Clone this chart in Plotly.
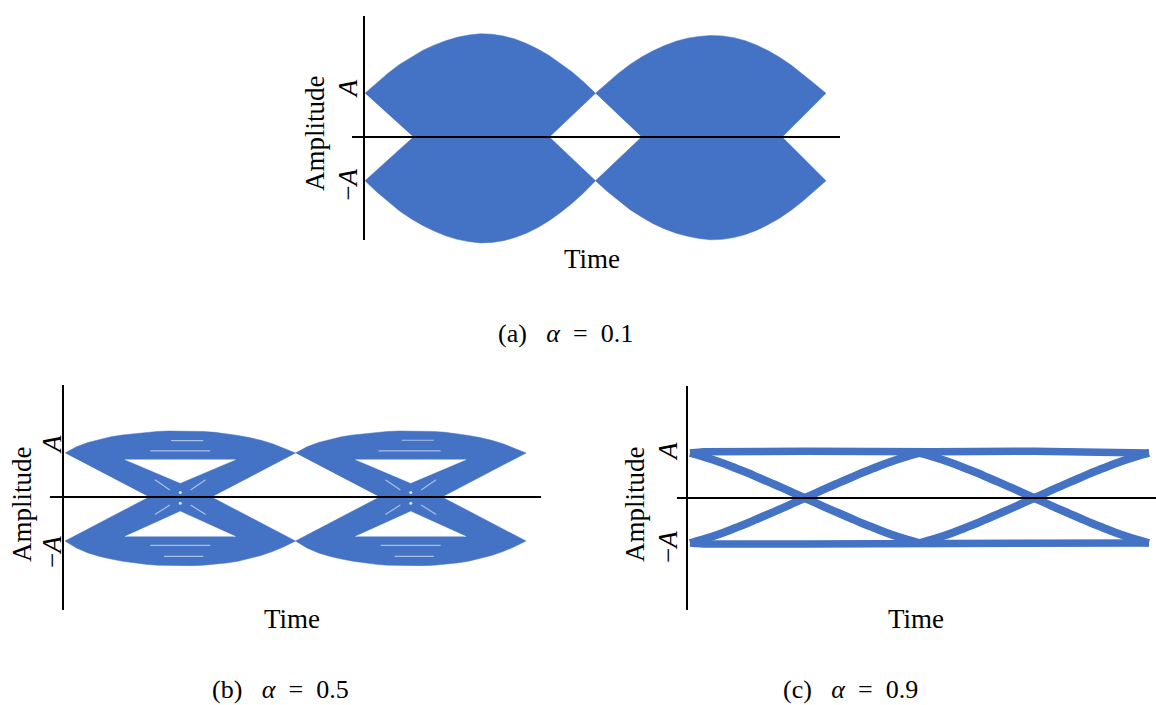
import plotly.graph_objects as go

W, H = 1156, 705
BLUE = "#4472C4"
SERIF = "Liberation Serif, Times New Roman, serif"

# ---- sampled time axis, in symbol periods ----
time_grid = [0.0, 0.05, 0.1, 0.15, 0.2, 0.25, 0.3, 0.35, 0.4, 0.45, 0.5,
             0.55, 0.6, 0.65, 0.7, 0.75, 0.8, 0.85, 0.9, 0.95, 1.0,
             1.05, 1.1, 1.15, 1.2, 1.25, 1.3, 1.35, 1.4, 1.45, 1.5,
             1.55, 1.6, 1.65, 1.7, 1.75, 1.8, 1.85, 1.9, 1.95, 2.0]

# ---- (a) alpha = 0.1 : outer envelopes of the trace bundle (units of A) ----
a_upper = [1.0, 1.24, 1.46, 1.66, 1.83, 1.98, 2.1, 2.2, 2.28, 2.33, 2.36,
           2.35, 2.31, 2.24, 2.14, 2.01, 1.86, 1.68, 1.48, 1.25, 1.0,
           1.24, 1.46, 1.66, 1.83, 1.97, 2.09, 2.19, 2.26, 2.3, 2.32,
           2.31, 2.27, 2.2, 2.1, 1.97, 1.82, 1.64, 1.44, 1.22, 1.0]
a_lower = [-1.0, -1.25, -1.48, -1.69, -1.87, -2.02, -2.15, -2.26, -2.34, -2.39, -2.42,
           -2.41, -2.37, -2.3, -2.2, -2.07, -1.91, -1.72, -1.51, -1.27, -1.0,
           -1.24, -1.46, -1.66, -1.83, -1.98, -2.1, -2.2, -2.27, -2.32, -2.35,
           -2.34, -2.3, -2.23, -2.13, -2.0, -1.85, -1.67, -1.46, -1.24, -1.0]
# zero-level points of the inner edges next to each sampling instant
a_open_left = [0.21, 1.2]
a_open_right = [0.8, 1.81]

# ---- (b) alpha = 0.5 ----
b_upper = [1.0, 1.14, 1.24, 1.31, 1.37, 1.41, 1.44, 1.47, 1.49, 1.5, 1.5,
           1.5, 1.49, 1.47, 1.44, 1.4, 1.35, 1.29, 1.21, 1.11, 1.0,
           1.14, 1.24, 1.31, 1.37, 1.41, 1.44, 1.47, 1.49, 1.5, 1.5,
           1.5, 1.49, 1.47, 1.44, 1.4, 1.35, 1.29, 1.21, 1.11, 1.0]
b_lower = [-1.0, -1.16, -1.27, -1.35, -1.41, -1.46, -1.5, -1.53, -1.55, -1.56, -1.56,
           -1.56, -1.55, -1.53, -1.5, -1.46, -1.4, -1.33, -1.24, -1.13, -1.0,
           -1.16, -1.27, -1.35, -1.41, -1.46, -1.5, -1.53, -1.55, -1.56, -1.56,
           -1.56, -1.55, -1.53, -1.5, -1.46, -1.4, -1.33, -1.24, -1.13, -1.0]
b_open_left = [0.365, 1.365]
b_open_right = [0.635, 1.635]
# inner eye openings above and below the crossing
b_gap_t = [0.26, 0.5, 0.74, None, 1.26, 1.5, 1.74]
b_gap_upper = [0.85, 0.32, 0.85, None, 0.85, 0.32, 0.85]
b_gap_lower = [-0.9, -0.33, -0.9, None, -0.9, -0.33, -0.9]
# sparse bands inside the rails and the crossing
b_streak_t = [0.46, 0.6, None, 0.37, 0.63, None, 1.46, 1.6, None, 1.36, 1.63, None,
              0.37, 0.63, None, 0.43, 0.6, None, 1.37, 1.63, None, 1.43, 1.6, None,
              0.39, 0.455, None, 0.545, 0.61, None, 0.39, 0.455, None, 0.545, 0.61, None,
              1.39, 1.455, None, 1.545, 1.61, None, 1.39, 1.455, None, 1.545, 1.61]
b_streak_v = [1.28, 1.28, None, 1.05, 1.05, None, 1.29, 1.29, None, 1.05, 1.05, None,
              -1.1, -1.1, None, -1.35, -1.35, None, -1.1, -1.1, None, -1.35, -1.35, None,
              0.39, 0.16, None, 0.16, 0.39, None, -0.4, -0.18, None, -0.18, -0.4, None,
              0.39, 0.16, None, 0.16, 0.39, None, -0.4, -0.18, None, -0.18, -0.4]
b_dot_t = [0.5, 0.5, 1.5, 1.5]
b_dot_v = [0.1, -0.14, 0.1, -0.14]

# ---- (c) alpha = 0.9 : single-symbol transitions and steady rails ----
c_curve_t = [0.0, 0.05, 0.1, 0.15, 0.2, 0.25, 0.3, 0.35, 0.4, 0.45, 0.5,
             0.55, 0.6, 0.65, 0.7, 0.75, 0.8, 0.85, 0.9, 0.95, 1.0]
c_fall = [1.0, 0.93, 0.85, 0.76, 0.66, 0.56, 0.45, 0.34, 0.23, 0.115, 0.0,
          -0.115, -0.23, -0.34, -0.45, -0.56, -0.66, -0.76, -0.85, -0.93, -1.0]
c_rise = [-1.0, -0.93, -0.85, -0.76, -0.66, -0.56, -0.45, -0.34, -0.23, -0.115, 0.0,
          0.115, 0.23, 0.34, 0.45, 0.56, 0.66, 0.76, 0.85, 0.93, 1.0]
c_rail_t = [0.0, 0.06, 0.5, 0.94, 1.0, 1.06, 1.5, 1.94, 2.0]
c_rail_upper = [1.0, 1.03, 1.04, 1.03, 1.0, 1.03, 1.04, 1.03, 1.0]
c_rail_lower = [-1.0, -1.02, -1.02, -1.02, -1.0, -1.02, -1.02, -1.02, -1.0]

# ---- labels ----
tick_vals = [1, -1]
tick_text = ["<i>A</i>", "\u2212<i>A</i>"]
panel_tags = ["(a)", "(b)", "(c)"]
alpha_text = ["0.1", "0.5", "0.9"]

# ---- panel placement (pixels): t=0 column, px per period, zero row, px per A ----
geom = [
    dict(t0=365, sx=230.5, z=137, sy=43.75, box=(330, 855, 5, 255),
         vline=(364, 16, 240), hline=(352, 840),
         amp=(315, 133), time=(592, 259), tick_x=348, tick_shift=(4, -4),
         cap=(565, 333, "middle")),
    dict(t0=65, sx=230.5, z=497, sy=44.0, box=(35, 565, 375, 635),
         vline=(63, 385, 610), hline=(50, 541),
         amp=(22, 504), time=(292, 619), tick_x=52, tick_shift=(8, -11),
         cap=(280, 705, "bottom")),
    dict(t0=690, sx=229.5, z=498, sy=45.0, box=(660, 1156, 375, 635),
         vline=(687, 386, 610), hline=(677, 1156),
         amp=(635, 504), time=(916, 619), tick_x=668, tick_shift=(1, -4),
         cap=(850, 705, "bottom")),
]


def px(x):
    return x / W


def py(y):
    return 1 - y / H


def lens_shapes(upper, lower, open_left, open_right):
    """Closed outlines of the trace bundle for each symbol interval."""
    xs, ys = [], []
    for k in range(2):
        i0, i1 = 20 * k, 20 * k + 21
        seg_t = time_grid[i0:i1]
        xs += seg_t + [open_right[k]] + seg_t[::-1] + [open_left[k], None]
        ys += upper[i0:i1] + [0] + lower[i0:i1][::-1] + [0, None]
    return xs, ys


fig = go.Figure()
axis_names = [("x", "y"), ("x2", "y2"), ("x3", "y3")]

# (a)
xa, ya = lens_shapes(a_upper, a_lower, a_open_left, a_open_right)
fig.add_trace(go.Scatter(x=xa, y=ya, fill="toself", fillcolor=BLUE, mode="lines",
                         line=dict(color=BLUE, width=0.5), hoverinfo="skip",
                         xaxis="x", yaxis="y"))

# (b)
xb, yb = lens_shapes(b_upper, b_lower, b_open_left, b_open_right)
fig.add_trace(go.Scatter(x=xb, y=yb, fill="toself", fillcolor=BLUE, mode="lines",
                         line=dict(color=BLUE, width=0.5), hoverinfo="skip",
                         xaxis="x2", yaxis="y2"))
for gap in (b_gap_upper, b_gap_lower):
    fig.add_trace(go.Scatter(x=b_gap_t, y=gap, fill="toself", fillcolor="white",
                             mode="lines", line=dict(color="white", width=0.5),
                             hoverinfo="skip", xaxis="x2", yaxis="y2"))
fig.add_trace(go.Scatter(x=b_streak_t, y=b_streak_v, mode="lines",
                         line=dict(color="rgba(255,255,255,0.55)", width=1.2),
                         hoverinfo="skip", xaxis="x2", yaxis="y2"))
fig.add_trace(go.Scatter(x=b_dot_t, y=b_dot_v, mode="markers",
                         marker=dict(color="rgba(255,255,255,0.8)", size=3),
                         hoverinfo="skip", xaxis="x2", yaxis="y2"))

# (c)
for rail in (c_rail_upper, c_rail_lower):
    fig.add_trace(go.Scatter(x=c_rail_t, y=rail, mode="lines",
                             line=dict(color=BLUE, width=7.5), hoverinfo="skip",
                             xaxis="x3", yaxis="y3"))
for k in range(2):
    shifted = [t + k for t in c_curve_t]
    for curve in (c_fall, c_rise):
        fig.add_trace(go.Scatter(x=shifted, y=curve, mode="lines", line_shape="spline",
                                 line=dict(color=BLUE, width=8), hoverinfo="skip",
                                 xaxis="x3", yaxis="y3"))

shapes, annotations = [], []
layout_axes = {}
for i, g in enumerate(geom):
    xn, yn = axis_names[i]
    x0, x1, y0, y1 = g["box"]
    xr = [(x0 - g["t0"]) / g["sx"], (x1 - g["t0"]) / g["sx"]]
    yr = [(g["z"] - y1) / g["sy"], (g["z"] - y0) / g["sy"]]
    key_x = "xaxis" if xn == "x" else "xaxis" + xn[1:]
    key_y = "yaxis" if yn == "y" else "yaxis" + yn[1:]
    layout_axes[key_x] = dict(domain=[px(x0), px(x1)], range=xr, visible=False,
                              fixedrange=True, anchor=yn)
    layout_axes[key_y] = dict(domain=[py(y1), py(y0)], range=yr, visible=False,
                              fixedrange=True, anchor=xn)

    # amplitude axis and zero level
    vx, vt, vb = g["vline"]
    shapes.append(dict(type="line", xref="paper", yref="paper",
                       x0=px(vx), x1=px(vx), y0=py(vt), y1=py(vb),
                       line=dict(color="black", width=2), layer="above"))
    hx0, hx1 = g["hline"]
    shapes.append(dict(type="line", xref="paper", yref=yn, x0=px(hx0), x1=px(hx1),
                       y0=0, y1=0, line=dict(color="black", width=2), layer="above"))

    font = dict(family=SERIF, size=27, color="black")
    annotations.append(dict(text="Amplitude", textangle=-90, xref="paper", yref="paper",
                            x=px(g["amp"][0]), y=py(g["amp"][1]), showarrow=False,
                            xanchor="center", yanchor="middle", font=font))
    annotations.append(dict(text="Time", xref="paper", yref="paper",
                            x=px(g["time"][0]), y=py(g["time"][1]), showarrow=False,
                            xanchor="center", yanchor="middle", font=font))
    for v, txt, sh in zip(tick_vals, tick_text, g["tick_shift"]):
        annotations.append(dict(text=txt, textangle=-90, xref="paper", yref=yn,
                                x=px(g["tick_x"]), y=v, yshift=sh, showarrow=False,
                                xanchor="center", yanchor="middle", font=font))
    cx, cy, canchor = g["cap"]
    annotations.append(dict(
        text=panel_tags[i] + "\u00a0\u00a0\u00a0<i>\u03b1</i>\u00a0\u00a0=\u00a0\u00a0" + alpha_text[i],
        xref="paper", yref="paper", x=px(cx), y=py(cy),
        showarrow=False, xanchor="center", yanchor=canchor, borderpad=0,
        font=dict(family=SERIF, size=26, color="black")))

fig.update_layout(
    width=W, height=H, margin=dict(l=0, r=0, t=0, b=0),
    paper_bgcolor="white", plot_bgcolor="rgba(0,0,0,0)",
    showlegend=False, shapes=shapes, annotations=annotations,
    **layout_axes,
)

fig.write_html("out.html", config={"displayModeBar": False})
